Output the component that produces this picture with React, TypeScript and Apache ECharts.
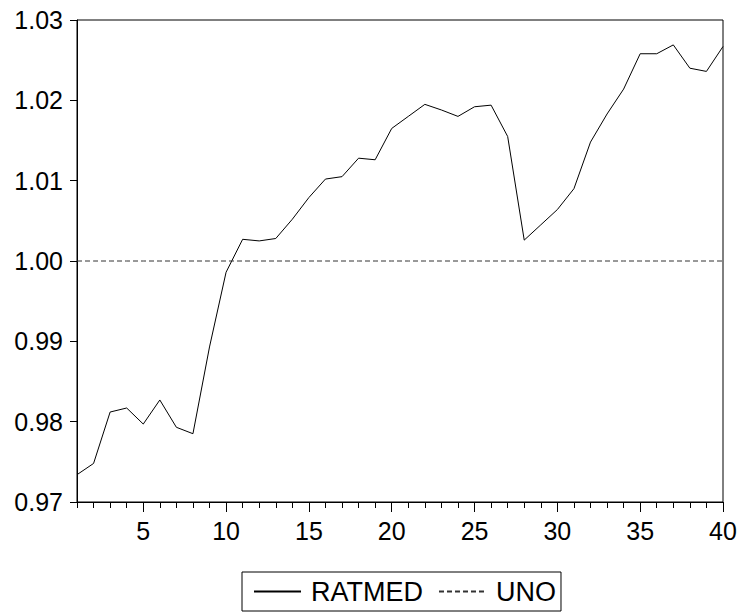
import React, { useEffect, useRef } from "react";
import * as echarts from "echarts";

const periods = Array.from({ length: 40 }, (_, i) => i + 1);
const ratmed = [
  0.9734, 0.9748, 0.9812, 0.9817, 0.9797, 0.9827, 0.9793, 0.9785, 0.9893, 0.9986,
  1.0027, 1.0025, 1.0028, 1.0052, 1.0079, 1.0102, 1.0105, 1.0128, 1.0126, 1.0165,
  1.018, 1.0195, 1.0188, 1.018, 1.0192, 1.0194, 1.0155, 1.0026, 1.0045, 1.0064,
  1.009, 1.0148, 1.0183, 1.0214, 1.0258, 1.0258, 1.0269, 1.024, 1.0236, 1.0267,
];
const uno = periods.map(() => 1.0);
const xLabelValues = [5, 10, 15, 20, 25, 30, 35, 40];
const seriesNames = ["RATMED", "UNO"];

const FONT = "Arial, 'Liberation Sans', Helvetica, sans-serif";

export default function App() {
  const ref = useRef<HTMLDivElement>(null);
  useEffect(() => {
    document.body.style.margin = "0";
    const chart = echarts.init(ref.current!, null, { renderer: "svg" });
    chart.setOption({
      animation: false,
      backgroundColor: "#fff",
      textStyle: { fontFamily: FONT },
      grid: {
        left: 77,
        top: 20,
        right: 19,
        bottom: 110,
        show: true,
        borderColor: "#000",
        borderWidth: 1,
        containLabel: false,
      },
      legend: {
        data: seriesNames,
        left: 242,
        top: 572,
        orient: "horizontal",
        itemWidth: 47,
        itemHeight: 14,
        itemGap: 15,
        padding: [6, 5, 6, 11],
        borderColor: "#000",
        borderWidth: 1,
        selectedMode: false,
        itemStyle: { opacity: 0 },
        textStyle: {
          fontFamily: FONT,
          fontSize: 27,
          color: "#000",
          lineHeight: 26,
          padding: [0, 0, 0, 5],
        },
      },
      xAxis: [
        {
          type: "value",
          min: 1,
          max: 40,
          interval: 1,
          axisLine: { show: true, lineStyle: { color: "#000", width: 1 } },
          axisTick: {
            show: true,
            customValues: periods,
            length: 6,
            lineStyle: { color: "#000" },
          },
          axisLabel: {
            customValues: xLabelValues,
            fontFamily: FONT,
            fontSize: 25,
            color: "#000",
            margin: 16,
          },
          splitLine: { show: false },
        },
        {
          type: "value",
          position: "bottom",
          min: 1,
          max: 40,
          interval: 1,
          axisLine: { show: false },
          axisTick: {
            show: true,
            customValues: xLabelValues,
            length: 10,
            lineStyle: { color: "#000" },
          },
          axisLabel: { show: false },
          splitLine: { show: false },
        },
      ],
      yAxis: {
        type: "value",
        min: 0.97,
        max: 1.03,
        interval: 0.01,
        axisLine: { show: true, lineStyle: { color: "#000", width: 1 } },
        axisTick: { show: true, length: 7, lineStyle: { color: "#000" } },
        axisLabel: {
          fontFamily: FONT,
          fontSize: 25,
          color: "#000",
          margin: 14,
          formatter: (v: number) => v.toFixed(2),
        },
        splitLine: { show: false },
      },
      series: [
        {
          name: seriesNames[0],
          type: "line",
          xAxisIndex: 0,
          data: periods.map((p, i) => [p, ratmed[i]]),
          symbol: "none",
          lineStyle: { color: "#000", width: 1 },
          itemStyle: { color: "#000" },
        },
        {
          name: seriesNames[1],
          type: "line",
          xAxisIndex: 0,
          data: periods.map((p, i) => [p, uno[i]]),
          symbol: "none",
          lineStyle: { color: "#333", width: 1, type: [5, 3] },
          itemStyle: { color: "#333" },
        },
      ],
    });
    return () => chart.dispose();
  }, []);
  return <div ref={ref} style={{ width: 742, height: 612 }} />;
}
